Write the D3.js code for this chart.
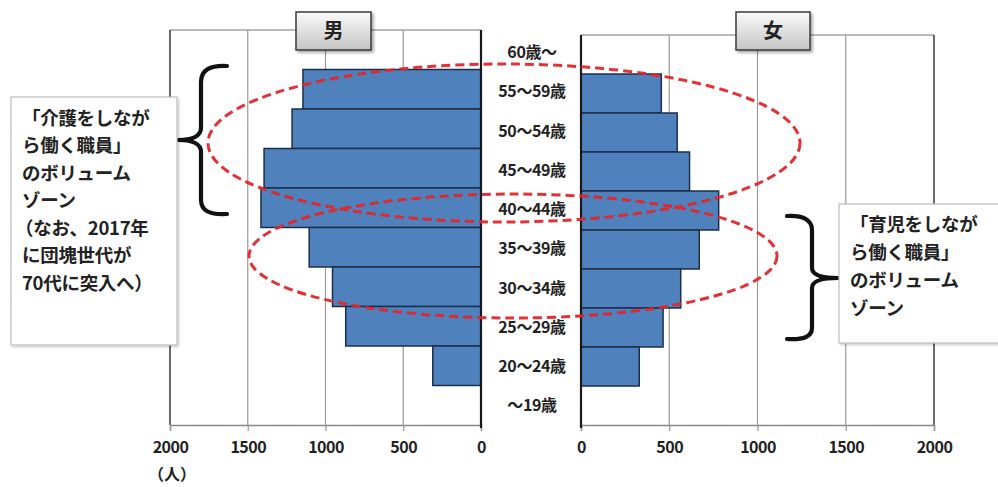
<!DOCTYPE html>
<html lang="ja">
<head>
<meta charset="utf-8">
<script src="https://cdn.jsdelivr.net/npm/d3@7"></script>
<style>
  html, body { margin: 0; padding: 0; background: #fff; }
  svg { display: block; }
  text { font-family: "Noto Sans CJK JP", "Noto Sans", sans-serif; font-weight: 700; fill: #222; }
</style>
</head>
<body>
<svg id="chart" width="998" height="487"></svg>
<script>
// Age groups, top to bottom
const ageGroups = ["60歳～", "55～59歳", "50～54歳", "45～49歳", "40～44歳",
                   "35～39歳", "30～34歳", "25～29歳", "20～24歳", "～19歳"];
// Staff counts (persons)
const maleCounts   = [0, 1145, 1215, 1395, 1415, 1105, 955, 870, 310, 0];
const femaleCounts = [0, 455, 545, 615, 780, 670, 565, 465, 330, 0];
// Axis ticks
const tickValues = [0, 500, 1000, 1500, 2000];
const unitLabel = "（人）";
const panelTitles = ["男", "女"];
// Annotation texts
const careNote = ["「介護をしなが", "ら働く職員」", "のボリューム", "ゾーン",
                  "（なお、2017年", "に団塊世代が", "70代に突入へ）"];
const childNote = ["「育児をしなが", "ら働く職員」", "のボリューム", "ゾーン"];

const svg = d3.select("#chart");
const defs = svg.append("defs");

const grad = defs.append("linearGradient").attr("id", "titleGrad")
  .attr("x1", 0).attr("y1", 0).attr("x2", 0).attr("y2", 1);
grad.append("stop").attr("offset", "0%").attr("stop-color", "#fbfbfb");
grad.append("stop").attr("offset", "100%").attr("stop-color", "#c4c4c4");

const shadow = defs.append("filter").attr("id", "shadow")
  .attr("x", "-20%").attr("y", "-20%").attr("width", "150%").attr("height", "160%");
shadow.append("feDropShadow").attr("dx", 2).attr("dy", 2).attr("stdDeviation", 1.5)
  .attr("flood-color", "#000").attr("flood-opacity", 0.35);

const softShadow = defs.append("filter").attr("id", "softShadow")
  .attr("x", "-10%").attr("y", "-10%").attr("width", "130%").attr("height", "130%");
softShadow.append("feDropShadow").attr("dx", 1.5).attr("dy", 1.5).attr("stdDeviation", 1.2)
  .attr("flood-color", "#000").attr("flood-opacity", 0.2);

// Panel geometry
const left  = { x0: 481, x1: 170, top: 30, bottom: 425 };
const right = { x0: 581, x1: 934, top: 35, bottom: 425 };

const xMale   = d3.scaleLinear().domain([0, 2000]).range([left.x0, left.x1]);
const xFemale = d3.scaleLinear().domain([0, 2000]).range([right.x0, right.x1]);
const yMale   = d3.scaleBand().domain(ageGroups).range([left.top, left.bottom]).padding(0);
const yFemale = d3.scaleBand().domain(ageGroups).range([right.top, right.bottom]).padding(0);

function drawPanel(x, y, p, data, cls) {
  const g = svg.append("g").attr("class", cls);
  // top frame line
  g.append("line").attr("x1", x(2000)).attr("x2", x(0))
    .attr("y1", p.top).attr("y2", p.top).attr("stroke", "#777").attr("stroke-width", 1.2);
  // vertical gridlines
  g.selectAll("line.grid").data(tickValues.filter(d => d > 0 && d < 2000)).join("line")
    .attr("class", "grid")
    .attr("x1", d => x(d)).attr("x2", d => x(d))
    .attr("y1", p.top).attr("y2", p.bottom)
    .attr("stroke", "#9a9a9a").attr("stroke-width", 1.2);
  // outer vertical edge at 2000
  g.append("line").attr("x1", x(2000)).attr("x2", x(2000))
    .attr("y1", p.top).attr("y2", p.bottom).attr("stroke", "#444").attr("stroke-width", 1.6);

  // bars
  g.selectAll("rect.bar").data(ageGroups.map((a, i) => ({ a, v: data[i] })).filter(d => d.v > 0))
    .join("rect").attr("class", "bar")
    .attr("x", d => Math.min(x(0), x(d.v)))
    .attr("width", d => Math.abs(x(d.v) - x(0)))
    .attr("y", d => y(d.a))
    .attr("height", y.bandwidth())
    .attr("fill", "#4f81bd").attr("stroke", "#1c2f4a").attr("stroke-width", 1.5);

  // bottom axis
  const axis = d3.axisBottom(x)
    .tickValues(tickValues).tickSize(6).tickPadding(11).tickFormat(d3.format("d"));
  const ax = g.append("g").attr("transform", `translate(0,${p.bottom})`).call(axis);
  ax.select(".domain").attr("stroke", "#888").attr("stroke-width", 1.5);
  ax.selectAll(".tick line").attr("stroke", "#999").attr("stroke-width", 1.2);
  ax.selectAll(".tick text").attr("font-size", 16).attr("fill", "#222")
    .attr("font-family", "'Noto Sans CJK JP', sans-serif").attr("font-weight", 700)
    .attr("letter-spacing", "-0.5px");

  // zero axis line
  g.append("line").attr("x1", x(0)).attr("x2", x(0))
    .attr("y1", p.top).attr("y2", p.bottom + 3).attr("stroke", "#1a1a1a").attr("stroke-width", 2.2);
  return g;
}

drawPanel(xMale, yMale, left, maleCounts, "male");
drawPanel(xFemale, yFemale, right, femaleCounts, "female");

// unit label under the left axis
svg.append("text").attr("x", xMale(2000) + 2).attr("y", 480)
  .attr("text-anchor", "middle").attr("font-size", 16).text(unitLabel);

// age group labels in the centre column
svg.append("g").selectAll("text").data(ageGroups).join("text")
  .attr("x", 532)
  .attr("y", d => (yMale(d) + yFemale(d)) / 2 + yMale.bandwidth() / 2)
  .attr("dy", "0.36em")
  .attr("text-anchor", "middle")
  .attr("font-size", 16)
  .attr("letter-spacing", "-0.4px")
  .text(d => d);

// panel title boxes
const titleBoxes = [
  { t: panelTitles[0], x: 296, y: 12, w: 75, h: 38 },
  { t: panelTitles[1], x: 736, y: 12, w: 74, h: 38 }
];
const tb = svg.append("g").selectAll("g").data(titleBoxes).join("g");
tb.append("rect").attr("x", d => d.x).attr("y", d => d.y).attr("width", d => d.w).attr("height", d => d.h)
  .attr("fill", "url(#titleGrad)").attr("stroke", "#3a3a3a").attr("stroke-width", 1.5)
  .attr("filter", "url(#shadow)");
tb.append("text").attr("x", d => d.x + d.w / 2).attr("y", d => d.y + d.h / 2).attr("dy", "0.36em")
  .attr("text-anchor", "middle").attr("font-size", 20).attr("fill", "#111").text(d => d.t);

// volume zone ellipses
const zones = [
  { cx: 504, cy: 143, rx: 296, ry: 79 },
  { cx: 513, cy: 256, rx: 264, ry: 62 }
];
svg.append("g").selectAll("ellipse").data(zones).join("ellipse")
  .attr("cx", d => d.cx).attr("cy", d => d.cy).attr("rx", d => d.rx).attr("ry", d => d.ry)
  .attr("fill", "none").attr("stroke", "#e0262c").attr("stroke-width", 3)
  .attr("stroke-dasharray", "9,5").attr("opacity", 0.95);

// braces
const braces = [
  // opening brace on the left
  "M227,66 C210,65 201,70 201,82 L201,128 C201,136 192,140 178,140 C192,140 201,144 201,152 L201,200 C201,211 210,215 227,214",
  // closing brace on the right
  "M787,216 C803,215 812,220 812,230 L812,268 C812,275 821,278 838,278 C821,278 812,281 812,288 L812,328 C812,337 803,340 787,339"
];
svg.append("g").selectAll("path").data(braces).join("path")
  .attr("d", d => d).attr("fill", "none").attr("stroke", "#111")
  .attr("stroke-width", 4.2).attr("stroke-linecap", "round").attr("stroke-linejoin", "round");

// annotation boxes
function noteBox(x, y, w, h, lines, tx, ty, lh) {
  const g = svg.append("g");
  g.append("rect").attr("x", x).attr("y", y).attr("width", w).attr("height", h)
    .attr("fill", "#fff").attr("stroke", "#bdbdbd").attr("stroke-width", 1.2)
    .attr("filter", "url(#softShadow)");
  g.selectAll("text").data(lines).join("text")
    .attr("x", d => tx - (d.startsWith("（") ? 7 : 0))
    .attr("y", (d, i) => ty + i * lh).attr("dy", "0.36em")
    .attr("font-size", 18.5).attr("fill", "#1a1a1a").attr("letter-spacing", "-0.3px")
    .text(d => d);
}
noteBox(11, 97, 166, 248, careNote, 22, 118, 27.5);
noteBox(839, 204, 162, 139, childNote, 850, 224, 28);
</script>
</body>
</html>
